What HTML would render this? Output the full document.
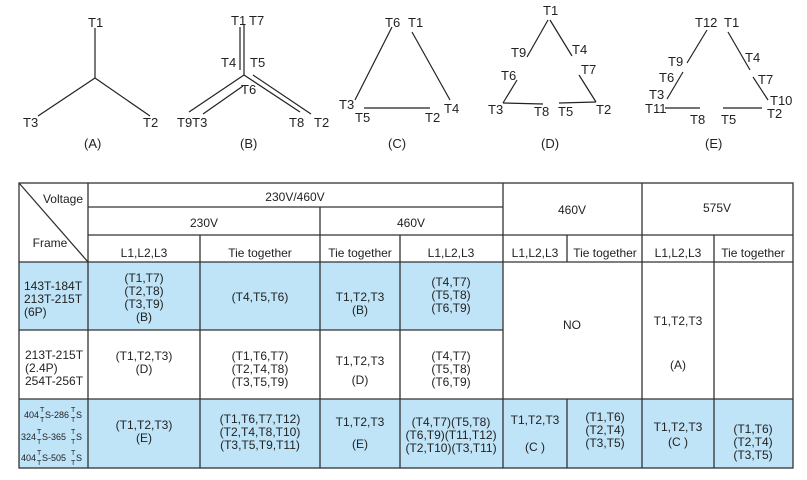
<!DOCTYPE html>
<html><head><meta charset="utf-8"><style>
html,body{margin:0;padding:0;background:#fff;}
svg{display:block;font-family:"Liberation Sans",Arial,sans-serif;}
</style></head><body>
<svg width="807" height="480" viewBox="0 0 807 480" xmlns="http://www.w3.org/2000/svg">
<g stroke="#222" stroke-width="1.2" fill="none">
<!-- A -->
<line x1="95" y1="28" x2="95" y2="78"/><line x1="95" y1="78" x2="38" y2="116"/><line x1="95" y1="78" x2="150" y2="116"/>
<!-- B -->
<line x1="240" y1="27" x2="240" y2="70"/><line x1="244" y1="25" x2="244" y2="75"/>
<line x1="244" y1="75" x2="189" y2="112"/><line x1="243" y1="86" x2="203" y2="114"/>
<line x1="244" y1="75" x2="300" y2="112"/><line x1="253" y1="75" x2="311" y2="114"/>
<!-- C -->
<line x1="392" y1="27" x2="355" y2="100"/><line x1="412" y1="32" x2="450" y2="100"/><line x1="364" y1="108" x2="430" y2="108"/>
<!-- D -->
<line x1="548" y1="20" x2="527" y2="57"/><line x1="550" y1="20" x2="572" y2="56"/>
<line x1="579" y1="75" x2="596" y2="102"/><line x1="517" y1="80" x2="503" y2="103"/>
<line x1="503" y1="103" x2="543" y2="104"/><line x1="559" y1="103" x2="596" y2="102"/>
<!-- E -->
<line x1="707" y1="30" x2="687" y2="63"/><line x1="728" y1="32" x2="750" y2="70"/>
<line x1="683" y1="72" x2="667" y2="99"/><line x1="753" y1="77" x2="768" y2="100"/>
<line x1="665" y1="108" x2="700" y2="108"/><line x1="723" y1="108" x2="762" y2="108"/>
</g>
<g font-size="13" fill="#222">
<text x="88" y="27">T1</text><text x="23" y="127">T3</text><text x="143" y="127">T2</text><text x="84" y="148">(A)</text>
<text x="231" y="25">T1</text><text x="249" y="25">T7</text><text x="221" y="67">T4</text><text x="250" y="67">T5</text><text x="241" y="94">T6</text>
<text x="177" y="127">T9T3</text><text x="289" y="127">T8</text><text x="314" y="127">T2</text><text x="240" y="148">(B)</text>
<text x="385" y="27">T6</text><text x="408" y="27">T1</text><text x="339" y="109">T3</text><text x="355" y="122">T5</text><text x="425" y="122">T2</text><text x="444" y="113">T4</text><text x="388" y="148">(C)</text>
<text x="543" y="15">T1</text><text x="511" y="57">T9</text><text x="572" y="54">T4</text><text x="581" y="74">T7</text><text x="501" y="80">T6</text>
<text x="488" y="114">T3</text><text x="534" y="116">T8</text><text x="558" y="116">T5</text><text x="596" y="114">T2</text><text x="541" y="148">(D)</text>
<text x="695" y="27">T12</text><text x="724" y="27">T1</text><text x="668" y="66">T9</text><text x="745" y="62">T4</text><text x="659" y="82">T6</text><text x="758" y="84">T7</text>
<text x="649" y="99">T3</text><text x="645" y="113">T11</text><text x="770" y="105">T10</text><text x="767" y="118">T2</text><text x="690" y="124">T8</text><text x="721" y="124">T5</text><text x="705" y="148">(E)</text>
</g>
<!-- table fills -->
<g fill="#bfe3f7">
<rect x="19" y="262" width="484" height="68"/>
<rect x="19" y="399" width="774" height="69"/>
</g>
<g stroke="#333" stroke-width="1.3" fill="none">
<rect x="19" y="183" width="774" height="285"/>
<line x1="19" y1="183" x2="88" y2="262"/>
<line x1="88" y1="183" x2="88" y2="468"/>
<line x1="88" y1="207" x2="503" y2="207"/>
<line x1="88" y1="235" x2="793" y2="235"/>
<line x1="19" y1="262" x2="793" y2="262"/>
<line x1="19" y1="330" x2="503" y2="330"/>
<line x1="19" y1="399" x2="793" y2="399"/>
<line x1="200" y1="235" x2="200" y2="468"/>
<line x1="320" y1="207" x2="320" y2="468"/>
<line x1="400" y1="235" x2="400" y2="468"/>
<line x1="503" y1="183" x2="503" y2="468"/>
<line x1="567" y1="235" x2="567" y2="262"/>
<line x1="567" y1="399" x2="567" y2="468"/>
<line x1="642" y1="183" x2="642" y2="468"/>
<line x1="714" y1="235" x2="714" y2="468"/>
</g>
<g font-size="12" fill="#222" text-anchor="middle">
<text x="63" y="203">Voltage</text><text x="50" y="247">Frame</text>
<text x="295" y="201">230V/460V</text>
<text x="204" y="227">230V</text><text x="411" y="227">460V</text>
<text x="572" y="214">460V</text><text x="717" y="212">575V</text>
<text x="144" y="257">L1,L2,L3</text><text x="260" y="257">Tie together</text><text x="360" y="257">Tie together</text><text x="451" y="257">L1,L2,L3</text>
<text x="535" y="257">L1,L2,L3</text><text x="605" y="257">Tie together</text><text x="678" y="257">L1,L2,L3</text><text x="753" y="257">Tie together</text>
<g text-anchor="start"><text x="24" y="290">143T-184T</text><text x="24" y="303">213T-215T</text><text x="24" y="316">(6P)</text>
<text x="25" y="359">213T-215T</text><text x="25" y="372">(2.4P)</text><text x="25" y="385">254T-256T</text></g>
<text x="144" y="282">(T1,T7)</text><text x="144" y="295">(T2,T8)</text><text x="144" y="308">(T3,T9)</text><text x="144" y="321">(B)</text>
<text x="260" y="301">(T4,T5,T6)</text>
<text x="360" y="301">T1,T2,T3</text><text x="360" y="314">(B)</text>
<text x="451" y="286">(T4,T7)</text><text x="451" y="299">(T5,T8)</text><text x="451" y="312">(T6,T9)</text>
<text x="572" y="329">NO</text>
<text x="678" y="325">T1,T2,T3</text><text x="678" y="369">(A)</text>
<text x="144" y="360">(T1,T2,T3)</text><text x="144" y="373">(D)</text>
<text x="260" y="360">(T1,T6,T7)</text><text x="260" y="373">(T2,T4,T8)</text><text x="260" y="386">(T3,T5,T9)</text>
<text x="360" y="365">T1,T2,T3</text><text x="360" y="384">(D)</text>
<text x="451" y="360">(T4,T7)</text><text x="451" y="373">(T5,T8)</text><text x="451" y="386">(T6,T9)</text>
<text x="144" y="429">(T1,T2,T3)</text><text x="144" y="442">(E)</text>
<text x="260" y="423">(T1,T6,T7,T12)</text><text x="260" y="436">(T2,T4,T8,T10)</text><text x="260" y="449">(T3,T5,T9,T11)</text>
<text x="360" y="426">T1,T2,T3</text><text x="360" y="448">(E)</text>
<text x="451" y="426">(T4,T7)(T5,T8)</text><text x="451" y="439">(T6,T9)(T11,T12)</text><text x="451" y="452">(T2,T10)(T3,T11)</text>
<text x="535" y="424">T1,T2,T3</text><text x="535" y="451">(C )</text>
<text x="605" y="421">(T1,T6)</text><text x="605" y="434">(T2,T4)</text><text x="605" y="447">(T3,T5)</text>
<text x="678" y="431">T1,T2,T3</text><text x="678" y="446">(C )</text>
<text x="753" y="433">(T1,T6)</text><text x="753" y="446">(T2,T4)</text><text x="753" y="459">(T3,T5)</text>
</g>
<g font-size="9" fill="#222">
<text x="24" y="418">404</text><text x="40" y="412" font-size="7">T</text><text x="40" y="422" font-size="7">T</text><text x="45" y="418">S-286</text><text x="71" y="412" font-size="7">T</text><text x="71" y="422" font-size="7">T</text><text x="76" y="418">S</text>
<text x="21" y="440">324</text><text x="37" y="434" font-size="7">T</text><text x="37" y="444" font-size="7">T</text><text x="42" y="440">S-365</text><text x="71" y="434" font-size="7">T</text><text x="71" y="444" font-size="7">T</text><text x="76" y="440">S</text>
<text x="21" y="461">404</text><text x="37" y="455" font-size="7">T</text><text x="37" y="465" font-size="7">T</text><text x="42" y="461">S-505</text><text x="71" y="455" font-size="7">T</text><text x="71" y="465" font-size="7">T</text><text x="76" y="461">S</text>
</g>
</svg>
</body></html>
